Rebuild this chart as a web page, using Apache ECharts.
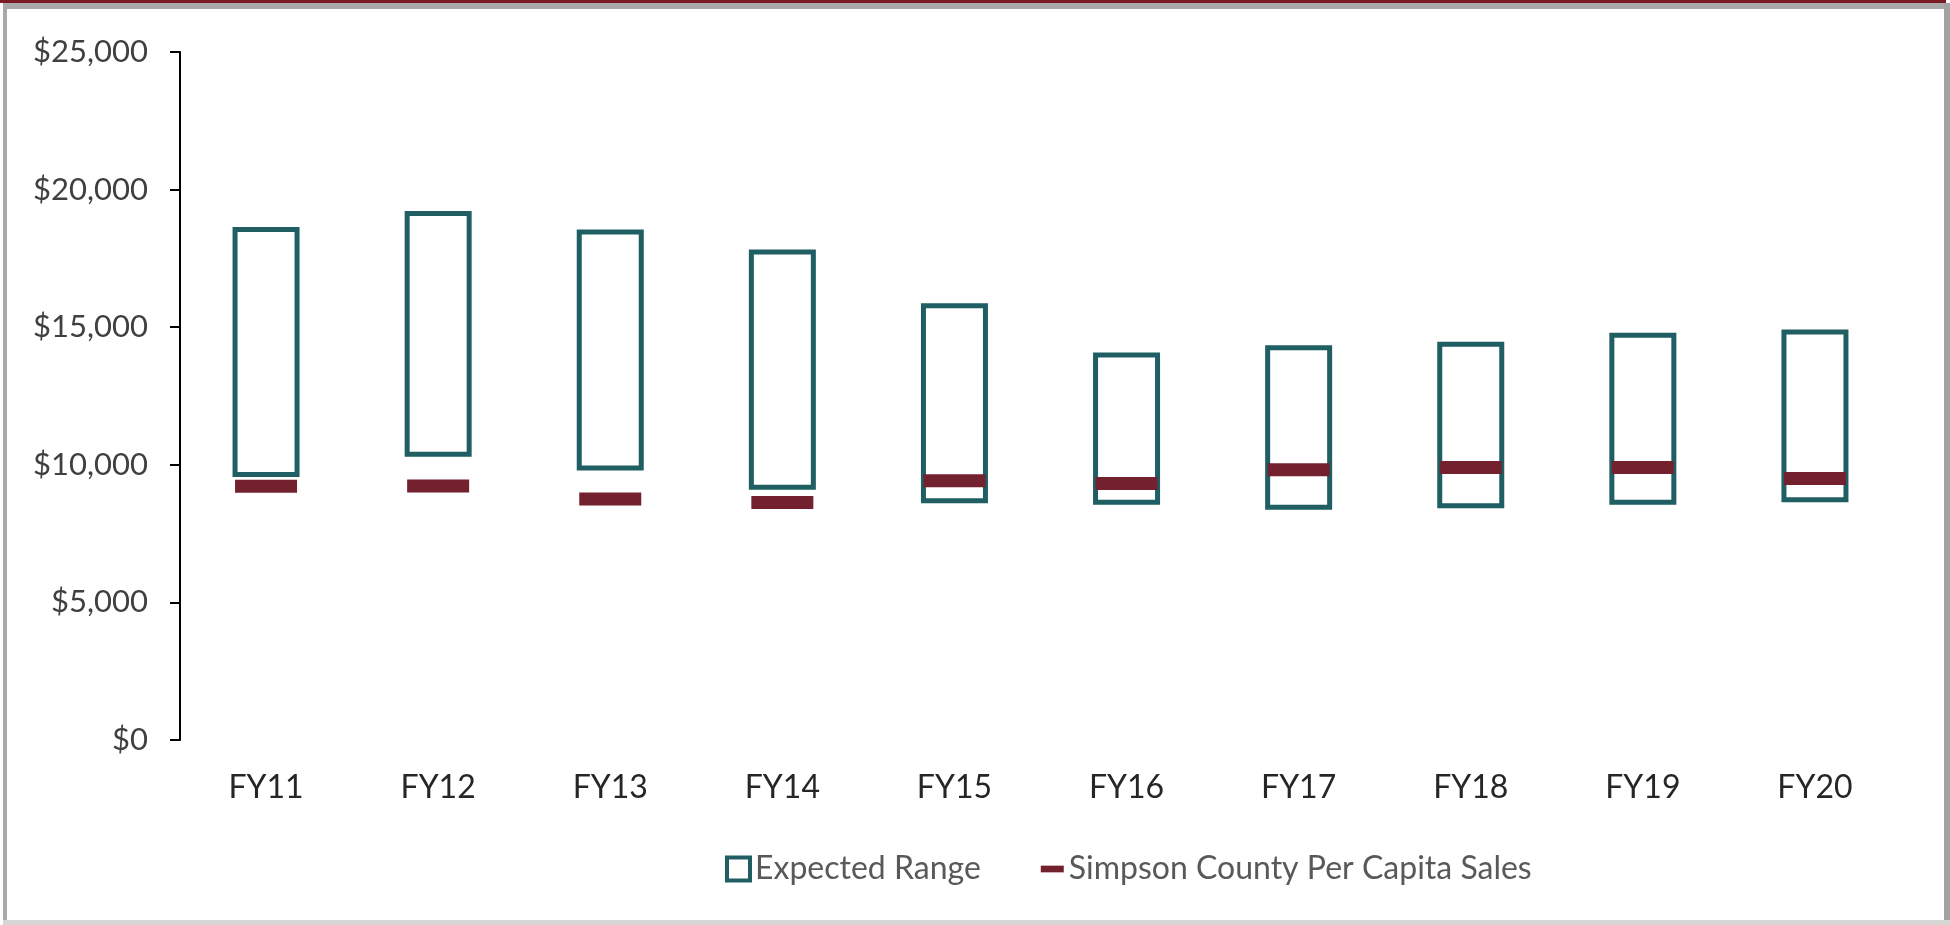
<!DOCTYPE html>
<html>
<head>
    <meta charset="utf-8">
    <title>Expected Range</title>
    <script src="https://cdn.jsdelivr.net/npm/echarts@6/dist/echarts.min.js"></script>
    <style>
        body { margin: 0; background: #fff; }
        #main { width: 1950px; height: 925px; }
    </style>
</head>
<body>
<div id="main"></div>
<script type="text/javascript">
    // data
    var years = ['FY11', 'FY12', 'FY13', 'FY14', 'FY15', 'FY16', 'FY17', 'FY18', 'FY19', 'FY20'];
    var rangeLow  = [9560, 10290, 9790, 9090, 8600, 8550, 8370, 8420, 8550, 8640];
    var rangeHigh = [18640, 19220, 18550, 17820, 15870, 14080, 14340, 14470, 14800, 14920];
    var countySales = [9220, 9230, 8760, 8630, 9420, 9320, 9820, 9900, 9900, 9500];

    var teal = '#1f5e62';
    var maroon = '#74212f';
    var font = 'Lato';

    var rangeSpan = rangeHigh.map(function (h, i) { return h - rangeLow[i]; });

    var myChart = echarts.init(document.getElementById('main'));

    myChart.setOption({
        animation: false,
        textStyle: { fontFamily: font },
        grid: { left: 180, right: 49, top: 52, bottom: 185, containLabel: false },
        graphic: [
            { type: 'rect', shape: { x: 0, y: 0, width: 1946, height: 3 }, style: { fill: '#7a1b24' } },
            { type: 'rect', shape: { x: 3, y: 3, width: 1943, height: 6 }, style: { fill: '#a9a9a9' } },
            { type: 'rect', shape: { x: 3, y: 3, width: 4, height: 922 }, style: { fill: '#a9a9a9' } },
            { type: 'rect', shape: { x: 1944, y: 3, width: 6, height: 922 }, style: { fill: '#a3a3a3' } },
            { type: 'rect', shape: { x: 3, y: 920, width: 1947, height: 5 }, style: { fill: '#d6d6d6' } }
        ],
        legend: {
            left: 720,
            top: 848,
            itemWidth: 23,
            itemHeight: 23,
            itemGap: 60,
            textStyle: { color: '#595959', fontSize: 32, fontFamily: font },
            data: [
                { name: 'Expected Range', icon: 'rect',
                  itemStyle: { color: '#fff', borderColor: teal, borderWidth: 4 } },
                { name: 'Simpson County Per Capita Sales', icon: 'path://M0,0 H24 V7 H0 Z',
                  itemStyle: { color: maroon } }
            ]
        },
        xAxis: {
            type: 'category',
            data: years,
            axisLine: { show: false },
            axisTick: { show: false },
            axisLabel: { color: '#262626', fontSize: 32, margin: 32 }
        },
        yAxis: {
            type: 'value',
            min: 0,
            max: 25000,
            interval: 5000,
            splitLine: { show: false },
            axisLine: { show: true, lineStyle: { color: '#000', width: 2 } },
            axisTick: { show: true, length: 10, lineStyle: { color: '#000', width: 2 } },
            axisLabel: {
                color: '#404040',
                fontSize: 31,
                margin: 32,
                formatter: function (v) {
                    return '$' + v.toString().replace(/\B(?=(\d{3})+(?!\d))/g, ',');
                }
            }
        },
        series: [
            {
                name: 'base',
                type: 'bar',
                stack: 'range',
                barWidth: 67,
                silent: true,
                itemStyle: { color: 'transparent' },
                data: rangeLow
            },
            {
                name: 'Expected Range',
                type: 'bar',
                stack: 'range',
                barWidth: 67,
                itemStyle: { color: '#fff', borderColor: teal, borderWidth: 5 },
                data: rangeSpan
            },
            {
                name: 'Simpson County Per Capita Sales',
                type: 'scatter',
                symbol: 'rect',
                symbolSize: [62, 13],
                itemStyle: { color: maroon, opacity: 1 },
                z: 5,
                data: countySales
            }
        ]
    });
</script>
</body>
</html>
